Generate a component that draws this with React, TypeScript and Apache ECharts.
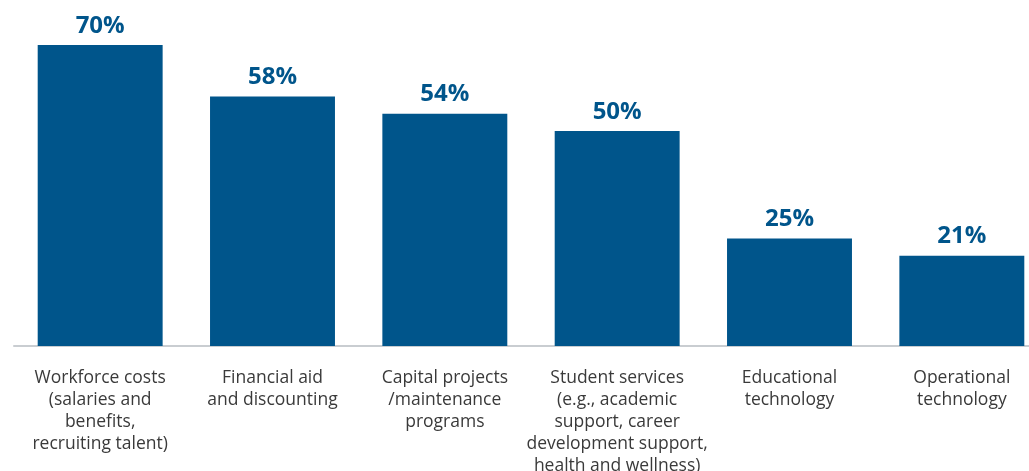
import React, { useEffect, useRef } from "react";
import * as echarts from "echarts";

const categories = [
  "Workforce costs\n(salaries and\nbenefits,\nrecruiting talent)",
  "Financial aid\nand discounting",
  "Capital projects\n/maintenance\nprograms",
  "Student services\n(e.g., academic\nsupport, career\ndevelopment support,\nhealth and wellness)",
  "Educational\ntechnology",
  "Operational\ntechnology",
];
const values = [70, 58, 54, 50, 25, 21];

const BLUE = "#00558b";

export default function App() {
  const ref = useRef<HTMLDivElement>(null);
  useEffect(() => {
    if (!ref.current) return;
    const chart = echarts.init(ref.current, undefined, { renderer: "svg" });
    chart.setOption({
      animation: false,
      grid: {
        left: 14,
        top: 2,
        width: 1034,
        height: 344,
        containLabel: false,
        outerBoundsMode: "none",
      },
      xAxis: {
        type: "category",
        data: categories,
        axisLine: { lineStyle: { color: "#c9cdd1", width: 2 } },
        axisTick: { show: false },
        axisLabel: {
          color: "#3a3a3a",
          fontFamily: "Open Sans",
          fontSize: 17.5,
          lineHeight: 22,
          margin: 19,
          interval: 0,
        },
      },
      yAxis: {
        type: "value",
        min: 0,
        max: 80,
        show: false,
        splitLine: { show: false },
      },
      series: [
        {
          type: "bar",
          data: values,
          barCategoryGap: "27.5%",
          itemStyle: { color: BLUE },
          label: {
            show: true,
            position: "top",
            distance: 10,
            formatter: "{c}%",
            color: BLUE,
            fontFamily: "Open Sans",
            fontWeight: "bold",
            fontSize: 24,
          },
        },
      ],
    });
    return () => chart.dispose();
  }, []);
  return (
    <div
      ref={ref}
      style={{ position: "fixed", left: 0, top: 0, width: 1029, height: 471 }}
    />
  );
}
